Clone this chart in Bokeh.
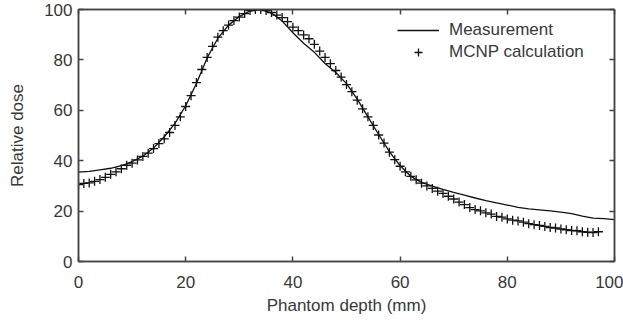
from bokeh.plotting import figure
from bokeh.models import (Range1d, LinearAxis, FixedTicker, Legend, LegendItem,
                          CustomLabelingPolicy)
from bokeh.embed import file_html
from bokeh.resources import INLINE

# Measurement curve (depth mm, relative dose)
meas_x = [0, 2, 4, 6, 8, 10, 12, 14, 16, 18, 20, 22, 24, 26, 28, 30, 32, 34, 36, 38,
          40, 42, 44, 46, 48, 50, 52, 54, 56, 58, 60, 62, 64, 66, 68, 70, 72, 74, 76, 78,
          80, 82, 84, 86, 88, 90, 92, 94, 96, 98, 100]
meas_y = [35.5, 35.8, 36.4, 37.0, 38.0, 39.6, 41.8, 45.0, 49.5, 54.8, 61.8, 70.6, 80.8, 88.6,
          93.8, 97.2, 99.4, 100.0, 98.6, 95.4, 90.8, 86.6, 83.0, 78.6, 75.0, 70.6, 64.4, 57.4,
          50.4, 43.6, 38.0, 33.8, 31.4, 29.9, 28.6, 27.4, 26.3, 25.2, 24.2, 23.3, 22.4, 21.5,
          20.9, 20.5, 20.1, 19.6, 19.0, 18.0, 17.2, 17.0, 16.6]

# MCNP calculation points
mcnp_x = list(range(0, 98))
mcnp_y = [30.5, 31.0, 31.2, 31.8, 32.5, 33.4, 34.6, 35.6, 36.8, 38.2,
          39.0, 40.3, 41.7, 43.0, 44.8, 46.8, 48.7, 51.2, 54.0, 57.4,
          61.5, 65.8, 71.0, 76.2, 81.0, 85.4, 89.0, 91.6, 93.8, 95.6,
          97.0, 98.4, 99.6, 100.0, 100.0, 99.6, 98.8, 97.8, 96.8, 95.2,
          93.0, 91.6, 89.9, 88.4, 86.2, 83.5, 81.0, 78.5, 75.8, 73.2,
          70.2, 67.4, 64.0, 60.6, 57.4, 54.0, 50.2, 47.0, 43.4, 40.4,
          37.8, 35.6, 33.8, 32.4, 31.1, 30.0, 29.0, 27.9, 27.0, 25.9,
          24.8, 23.6, 22.6, 21.4, 20.6, 20.1, 19.3, 18.8, 17.9, 17.6,
          16.9, 16.4, 16.1, 15.6, 15.0, 14.6, 14.3, 13.9, 13.5, 13.3,
          12.9, 12.6, 12.3, 12.2, 11.8, 11.6, 11.5, 11.8]

x_ticks = [0, 20, 40, 60, 80, 100]
y_ticks = [0, 20, 40, 60, 80, 100]

FONT = "Liberation Sans"
TXT = "#383838"
FRAME = "#444444"

p = figure(width=623, height=318, output_backend="svg", toolbar_location=None,
           x_range=Range1d(0, 100), y_range=Range1d(0, 100),
           min_border_left=78, min_border_right=9, min_border_top=9, min_border_bottom=57)
p.grid.visible = False
p.outline_line_color = FRAME
p.outline_line_width = 1.5

for ax in p.xaxis + p.yaxis:
    ax.major_label_text_font = FONT
    ax.major_label_text_font_size = "17px"
    ax.major_label_text_color = TXT
    ax.axis_label_text_font = FONT
    ax.axis_label_text_font_size = "17px"
    ax.axis_label_text_font_style = "normal"
    ax.axis_label_text_color = TXT
    ax.major_tick_in = 5
    ax.major_tick_out = 0
    ax.minor_tick_line_color = None
    ax.axis_line_color = FRAME
    ax.axis_line_width = 1.5
    ax.major_tick_line_color = FRAME
    ax.major_tick_line_width = 1.5

p.xaxis.ticker = FixedTicker(ticks=x_ticks)
p.yaxis.ticker = FixedTicker(ticks=y_ticks)
p.xaxis.axis_label = "Phantom depth (mm)"
p.yaxis.axis_label = "Relative dose"
p.xaxis.major_label_standoff = 14
p.xaxis.axis_label_standoff = 5
p.yaxis.major_label_standoff = 6
p.yaxis.axis_label_standoff = 14

# mirror ticks on top and right (no labels)
no_labels = CustomLabelingPolicy(code="return new Set()")
for side in ("above", "right"):
    ax = LinearAxis(ticker=FixedTicker(ticks=x_ticks if side == "above" else y_ticks))
    ax.major_label_policy = no_labels
    ax.major_label_text_font_size = "0px"
    ax.major_label_standoff = 0
    ax.axis_label_standoff = 0
    ax.major_tick_in = 5
    ax.major_tick_out = 0
    ax.minor_tick_line_color = None
    ax.axis_line_color = FRAME
    ax.axis_line_width = 1.5
    ax.major_tick_line_color = FRAME
    ax.major_tick_line_width = 1.5
    p.add_layout(ax, side)

r_line = p.line(meas_x, meas_y, line_color="#111111", line_width=1.3)
r_pts = p.scatter(mcnp_x, mcnp_y, marker="cross", size=9, line_color="#111111", line_width=1.3)

legend = Legend(items=[LegendItem(label="Measurement", renderers=[r_line]),
                       LegendItem(label="MCNP calculation", renderers=[r_pts])],
                location=(319, 199))
legend.label_text_font = FONT
legend.label_text_font_size = "17px"
legend.label_text_color = TXT
legend.glyph_width = 42
legend.glyph_height = 20
legend.label_height = 20
legend.label_standoff = 10
legend.spacing = 2
legend.padding = 0
legend.margin = 0
legend.border_line_alpha = 0
legend.background_fill_alpha = 0
p.add_layout(legend, "center")

open("out.html", "w").write(file_html(p, INLINE))
